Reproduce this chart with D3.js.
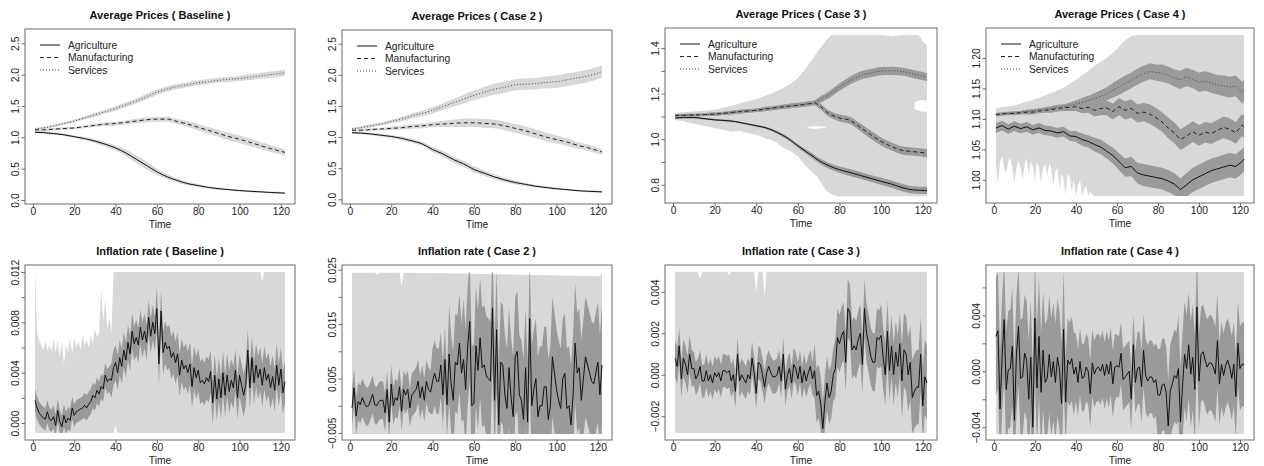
<!DOCTYPE html>
<html><head><meta charset="utf-8">
<script src="https://cdn.jsdelivr.net/npm/d3@7"></script>
<style>body{margin:0;background:#fff}svg{display:block}</style>
</head><body><svg id="c" width="1264" height="466"></svg>
<script>
// ---------------- DATA ----------------
const titles = ["Average Prices ( Baseline )","Average Prices ( Case 2 )","Average Prices ( Case 3 )","Average Prices ( Case 4 )",
  "Inflation rate ( Baseline )","Inflation rate ( Case 2 )","Inflation rate ( Case 3 )","Inflation rate ( Case 4 )"];
const xAxisLabel = "Time";
const legendLabels = ["Agriculture","Manufacturing","Services"];
const xTicks = [0,20,40,60,80,100,120];
const xTickLabels = ["0","20","40","60","80","100","120"];

const yTicksP1 = [0,0.5,1,1.5,2,2.5], yLabelsP1 = ["0.0","0.5","1.0","1.5","2.0","2.5"];
const yTicksP3 = [0.8,0.9,1.0,1.1,1.2,1.3,1.4], yLabelsP3 = ["0.8","","1.0","","1.2","","1.4"];
const yTicksP4 = [1.00,1.05,1.10,1.15,1.20], yLabelsP4 = ["1.00","1.05","1.10","1.15","1.20"];
const yTicksI1 = [0,0.002,0.004,0.006,0.008,0.010,0.012], yLabelsI1 = ["0.000","","0.004","","0.008","","0.012"];
const yTicksI2 = [-0.005,0,0.005,0.010,0.015,0.020,0.025], yLabelsI2 = ["\u22120.005","","0.005","","0.015","","0.025"];
const yTicksI3 = [-0.002,0,0.002,0.004], yLabelsI3 = ["\u22120.002","0.000","0.002","0.004"];
const yTicksI4 = [-0.004,-0.002,0,0.002,0.004,0.006], yLabelsI4 = ["\u22120.004","","0.000","","0.004",""];

// Average prices, Baseline
const baseT   = [1,5,10,15,20,25,30,35,40,45,50,55,60,65,70,75,80,85,90,95,100,105,110,115,122];
const baseAgr = [1.08,1.075,1.06,1.04,1.01,0.98,0.94,0.89,0.83,0.75,0.65,0.55,0.45,0.37,0.31,0.26,0.23,0.20,0.18,0.165,0.15,0.14,0.13,0.12,0.11];
const baseAgrHw = [0.02,0.02,0.02,0.02,0.02,0.025,0.03,0.035,0.04,0.05,0.06,0.06,0.05,0.04,0.03,0.03,0.025,0.02,0.02,0.015,0.015,0.015,0.015,0.015,0.015];
const baseMan = [1.12,1.12,1.13,1.14,1.15,1.17,1.19,1.21,1.22,1.24,1.26,1.28,1.29,1.29,1.25,1.21,1.16,1.11,1.06,1.01,0.97,0.92,0.87,0.82,0.76];
const baseManHw = [0.02,0.02,0.02,0.02,0.02,0.02,0.025,0.025,0.03,0.03,0.035,0.04,0.04,0.04,0.04,0.045,0.05,0.055,0.055,0.06,0.06,0.06,0.055,0.055,0.05];
const baseSer = [1.13,1.15,1.18,1.22,1.26,1.31,1.36,1.41,1.46,1.52,1.58,1.65,1.72,1.77,1.81,1.84,1.87,1.89,1.91,1.925,1.94,1.96,1.98,2.0,2.03];
const baseSerHw = [0.02,0.02,0.02,0.02,0.025,0.025,0.03,0.03,0.035,0.04,0.04,0.045,0.045,0.045,0.04,0.04,0.04,0.04,0.04,0.04,0.04,0.045,0.045,0.05,0.05];

// Average prices, Case 2
const c2T   = [1,5,10,15,20,25,30,35,40,45,50,55,60,65,70,75,80,85,90,95,100,105,110,115,122];
const c2Agr = [1.07,1.065,1.05,1.03,1.01,0.98,0.94,0.89,0.80,0.73,0.64,0.57,0.48,0.42,0.36,0.31,0.27,0.24,0.21,0.19,0.17,0.155,0.14,0.13,0.12];
const c2AgrHw = [0.02,0.02,0.02,0.02,0.025,0.03,0.03,0.035,0.04,0.045,0.05,0.05,0.05,0.045,0.04,0.035,0.03,0.025,0.02,0.02,0.02,0.015,0.015,0.015,0.015];
const c2Man = [1.11,1.11,1.12,1.13,1.14,1.15,1.17,1.18,1.20,1.21,1.22,1.23,1.23,1.22,1.21,1.18,1.14,1.10,1.05,1.00,0.96,0.92,0.87,0.83,0.76];
const c2ManHw = [0.02,0.02,0.02,0.02,0.025,0.03,0.035,0.04,0.04,0.05,0.06,0.07,0.07,0.07,0.07,0.07,0.07,0.07,0.07,0.07,0.065,0.06,0.055,0.05,0.045];
const c2Ser = [1.13,1.15,1.18,1.21,1.25,1.29,1.34,1.38,1.43,1.49,1.55,1.61,1.67,1.72,1.77,1.80,1.84,1.85,1.86,1.88,1.89,1.92,1.95,1.98,2.05];
const c2SerHw = [0.02,0.02,0.025,0.025,0.03,0.035,0.04,0.045,0.05,0.055,0.06,0.07,0.08,0.085,0.09,0.09,0.09,0.09,0.09,0.095,0.1,0.1,0.1,0.1,0.1];

// Average prices, Case 3
const c3T   = [1,5,10,15,20,25,30,35,40,45,50,55,60,65,68,70,75,80,85,90,95,100,105,110,115,122];
const c3Agr = [1.093,1.095,1.095,1.09,1.085,1.082,1.077,1.068,1.059,1.049,1.03,1.005,0.971,0.939,0.92,0.907,0.883,0.866,0.854,0.841,0.828,0.815,0.803,0.788,0.778,0.775];
const c3AgrHw = [0.004,0.004,0.004,0.004,0.004,0.004,0.004,0.004,0.004,0.005,0.006,0.007,0.008,0.01,0.011,0.012,0.013,0.014,0.015,0.015,0.015,0.016,0.016,0.016,0.016,0.016];
const c3Man = [1.104,1.105,1.106,1.108,1.110,1.114,1.119,1.123,1.127,1.133,1.139,1.144,1.149,1.155,1.159,1.149,1.112,1.093,1.083,1.052,1.02,0.99,0.968,0.951,0.946,0.939];
const c3ManHw = [0.006,0.006,0.006,0.006,0.007,0.007,0.008,0.008,0.008,0.009,0.009,0.01,0.01,0.01,0.01,0.012,0.014,0.015,0.016,0.017,0.018,0.018,0.018,0.018,0.018,0.018];
const c3Ser = [1.104,1.105,1.106,1.108,1.110,1.114,1.119,1.123,1.127,1.133,1.139,1.145,1.150,1.156,1.160,1.170,1.195,1.229,1.257,1.279,1.29,1.299,1.30,1.297,1.287,1.273];
const c3SerHw = [0.006,0.006,0.006,0.006,0.007,0.007,0.008,0.008,0.008,0.009,0.009,0.01,0.01,0.01,0.011,0.013,0.015,0.016,0.017,0.018,0.018,0.018,0.018,0.018,0.018,0.018];
const c3OuterUpT = [1,20,28,40,50,57,60,64,69,74,76,100,105,110,118,120,122];
const c3OuterUpV = [1.115,1.129,1.147,1.176,1.21,1.246,1.268,1.312,1.378,1.437,1.458,1.458,1.452,1.458,1.458,1.43,1.41];
const c3OuterLoT = [1,20,24,28,32,36,40,44,46,50,52,57,60,64,69,74,76,79,122];
const c3OuterLoV = [1.085,1.049,1.042,1.034,1.036,1.027,1.02,1.005,1.0,0.985,0.968,0.945,0.924,0.88,0.837,0.771,0.76,0.749,0.749];
// uncovered gaps inside the outer band
const c3Gap1T = [65,69,73], c3Gap1Lo = [1.048,1.046,1.050], c3Gap1Hi = [1.055,1.058,1.054];
const c3Gap2T = [116,119,122], c3Gap2Lo = [1.132,1.122,1.120], c3Gap2Hi = [1.162,1.172,1.170];

// Average prices, Case 4
const c4T = [1,4,7,10,13,16,19,22,25,28,31,34,37,40,43,46,49,52,55,58,61,64,67,70,73,76,79,82,85,88,91,94,97,100,103,106,109,112,115,118,121,122];
const c4Agr = [1.085,1.089,1.083,1.088,1.084,1.087,1.082,1.085,1.081,1.080,1.077,1.079,1.072,1.071,1.066,1.063,1.058,1.054,1.047,1.040,1.030,1.020,1.022,1.011,1.008,1.006,1.004,1.002,0.998,0.993,0.984,0.992,1.000,1.005,1.010,1.015,1.018,1.021,1.024,1.022,1.030,1.034];
const c4AgrHw = [0.008,0.008,0.008,0.008,0.008,0.008,0.008,0.008,0.008,0.008,0.008,0.008,0.008,0.009,0.01,0.01,0.011,0.012,0.012,0.013,0.014,0.015,0.016,0.017,0.018,0.018,0.018,0.018,0.018,0.018,0.018,0.019,0.02,0.02,0.02,0.02,0.02,0.02,0.02,0.02,0.02,0.02];
const c4Man = [1.107,1.108,1.109,1.109,1.110,1.111,1.111,1.113,1.114,1.115,1.117,1.118,1.119,1.120,1.117,1.119,1.114,1.117,1.118,1.112,1.120,1.114,1.117,1.109,1.111,1.108,1.102,1.095,1.085,1.077,1.066,1.072,1.079,1.073,1.078,1.076,1.081,1.086,1.083,1.077,1.090,1.087];
const c4ManHw = [0.003,0.003,0.003,0.003,0.003,0.004,0.004,0.004,0.004,0.005,0.005,0.005,0.006,0.007,0.008,0.009,0.01,0.011,0.012,0.013,0.014,0.015,0.015,0.015,0.015,0.016,0.016,0.016,0.017,0.017,0.017,0.017,0.017,0.017,0.017,0.017,0.017,0.018,0.018,0.018,0.018,0.018];
const c4Ser = [1.107,1.108,1.109,1.110,1.111,1.112,1.113,1.114,1.116,1.117,1.119,1.120,1.122,1.124,1.127,1.130,1.133,1.137,1.141,1.147,1.152,1.158,1.163,1.169,1.174,1.178,1.176,1.175,1.172,1.167,1.164,1.169,1.165,1.160,1.162,1.159,1.156,1.154,1.152,1.154,1.143,1.147];
const c4SerHw = [0.002,0.002,0.002,0.002,0.002,0.003,0.003,0.003,0.003,0.004,0.004,0.004,0.005,0.006,0.007,0.008,0.009,0.01,0.011,0.012,0.013,0.013,0.013,0.013,0.013,0.013,0.013,0.014,0.014,0.014,0.015,0.015,0.015,0.016,0.016,0.016,0.016,0.017,0.017,0.017,0.018,0.018];
const c4OuterUpT = [1,10,20,30,35,40,45,50,55,60,63,67,70,122];
const c4OuterUpV = [1.118,1.122,1.132,1.145,1.153,1.164,1.176,1.189,1.200,1.214,1.226,1.236,1.2375,1.2375];
const c4OuterLoT = [1,2,3,4,5,6,7,8,9,10,11,12,13,14,15,16,17,18,19,20,21,22,23,24,25,26,27,28,29,30,31,32,33,34,35,36,37,38,39,40,41,42,43,44,45,46,47,48,49,122];
const c4OuterLoV = [1.027,0.992,1.03,1.038,1.02,1.011,1.03,1.036,1.02,0.997,1.02,1.033,1.02,1.0,1.025,1.035,1.01,1.03,1.022,1.0,1.03,1.02,0.995,1.02,1.025,1.005,1.028,1.02,0.99,1.015,1.02,0.985,1.01,1.0,0.975,1.01,1.005,0.98,1.0,0.9735,0.99,1.0,0.9735,0.985,0.99,0.9735,0.98,0.975,0.9735,0.9735];

// Inflation rates (t = 1..122)
const infTime = d3.range(1, 123);
const infBase = [0.0018,0.0012,0.0008,0.0006,0.0004,0.0003,0.0009,0.0003,0.0002,0.0005,
 -0.0002,0.0010,0.0001,-0.0003,0.0006,0.0000,0.0004,0.0002,0.0012,0.0006,
 0.0009,0.0010,0.0011,0.0012,0.0014,0.0012,0.0015,0.0017,0.0022,0.0020,
 0.0026,0.0023,0.0029,0.0027,0.0038,0.0033,0.0035,0.0034,0.0044,0.0048,
 0.0040,0.0052,0.0045,0.0058,0.0050,0.0064,0.0055,0.0073,0.0063,0.0068,
 0.0062,0.0076,0.0066,0.0073,0.0064,0.0084,0.0069,0.0080,0.0071,0.0091,
 0.0047,0.0089,0.0056,0.0064,0.0059,0.0061,0.0052,0.0056,0.0048,0.0055,
 0.0038,0.0050,0.0043,0.0046,0.0040,0.0047,0.0029,0.0044,0.0036,0.0042,
 0.0032,0.0034,0.0031,0.0036,0.0033,0.0041,0.0016,0.0038,0.0019,0.0035,
 0.0020,0.0040,0.0022,0.0038,0.0025,0.0034,0.0028,0.0042,0.0020,0.0038,
 0.0030,0.0022,0.0030,0.0058,0.0028,0.0052,0.0032,0.0046,0.0036,0.0043,
 0.0030,0.0044,0.0034,0.0039,0.0028,0.0037,0.0026,0.0046,0.0030,0.0043,
 0.0024,0.0033];
const infBaseHwStart = [1,25,38,60], infBaseHw = [0.0009,0.0010,0.0014,0.0017];
const infBaseOuterUpT = [1,2,3,4,5,6,7,8,9,10,11,12,13,14,15,16,17,18,19,20,21,22,23,24,25,26,27,28,29,30,31,32,33,34,35,36,37,38,39,110,111,112,122];
const infBaseOuterUpV = [0.0120,0.0072,0.0065,0.0062,0.0058,0.0065,0.0057,0.0062,0.0057,0.0067,0.0056,0.0066,0.0052,0.0064,0.0047,0.0062,0.0056,0.0067,0.0055,0.0068,0.0060,0.0065,0.0058,0.0070,0.0062,0.0066,0.0060,0.0070,0.0063,0.0075,0.0068,0.0072,0.0106,0.0080,0.0098,0.0075,0.0084,0.0072,0.0120,0.0120,0.0113,0.0120,0.0120];
const infBaseOuterLoT = [1,39,40,41,122];
const infBaseOuterLoV = [-0.0008,-0.0008,-0.0002,-0.0008,-0.0008];

const infCase2 = [-0.0004,0.0033,-0.0019,0.0008,0.0002,0.0015,0.0005,-0.0002,0.0000,0.0010,
 0.0021,0.0002,0.0000,0.0008,0.0010,0.0010,-0.0013,0.0030,-0.0030,0.0040,
 0.0000,0.0015,0.0010,0.0035,-0.0010,0.0030,0.0020,0.0030,-0.0004,0.0020,
 0.0025,0.0030,0.0045,0.0015,0.0035,0.0010,0.0045,0.0030,0.0025,0.0045,
 0.0060,0.0045,0.0045,0.0075,0.0020,0.0085,0.0002,0.0095,0.0040,0.0010,
 0.0080,0.0075,0.0115,0.0060,0.0085,0.0030,0.0110,0.0155,0.0000,0.0005,
 0.0110,0.0065,0.0125,0.0070,0.0075,0.0055,0.0050,0.0045,0.0180,0.0010,
 0.0140,-0.0035,0.0080,0.0075,0.0020,-0.0005,0.0070,0.0015,-0.0020,0.0090,
 0.0100,0.0020,0.0010,-0.0025,0.0070,-0.0030,0.0160,0.0000,0.0030,0.0050,
 -0.0020,0.0000,0.0000,0.0035,0.0035,-0.0025,0.0000,0.0090,0.0060,0.0030,
 0.0010,-0.0005,0.0050,0.0060,-0.0005,0.0000,-0.0035,0.0020,0.0115,0.0060,
 0.0070,0.0010,0.0050,0.0090,0.0075,0.0060,0.0045,0.0040,0.0060,0.0080,
 0.0020,0.0075];
const infCase2HwStart = [1,30,40,48,55], infCase2Hw = [0.0035,0.004,0.006,0.009,0.011];
const infCase2OuterUpT = [1,12,13,14,24,25,26,121,122];
const infCase2OuterUpV = [0.0245,0.0245,0.0240,0.0245,0.0245,0.0222,0.0245,0.0238,0.0245];
const infCase2OuterLoT = [1,122];
const infCase2OuterLoV = [-0.0052,-0.0052];

const infCase3 = [0.0008,0.0004,0.0014,-0.0002,0.0008,0.0005,0.0000,0.0010,0.0003,0.0003,
 -0.0002,0.0000,0.0004,-0.0003,-0.0003,0.0002,-0.0003,0.0000,-0.0004,0.0001,
 -0.0001,0.0001,-0.0003,0.0002,0.0002,0.0001,0.0002,-0.0003,0.0000,-0.0008,
 0.0010,-0.0003,0.0000,-0.0002,-0.0004,0.0000,-0.0002,0.0008,0.0001,-0.0009,
 0.0006,0.0005,0.0000,-0.0006,0.0001,0.0004,0.0001,-0.0001,-0.0001,0.0000,
 0.0004,-0.0003,0.0010,-0.0007,0.0000,0.0003,-0.0004,0.0005,0.0003,-0.0002,
 0.0004,-0.0004,0.0002,-0.0003,0.0001,0.0004,-0.0002,0.0002,-0.0010,-0.0008,
 -0.0014,-0.0026,-0.0013,-0.0004,-0.0011,-0.0008,0.0000,0.0003,0.0018,0.0015,
 0.0019,0.0021,0.0006,0.0032,0.0030,0.0012,0.0014,0.0012,0.0017,0.0020,
 0.0005,0.0032,0.0020,0.0015,0.0009,0.0006,0.0006,0.0018,0.0017,0.0019,
 0.0008,0.0000,0.0021,0.0002,0.0014,0.0000,0.0011,0.0004,0.0015,-0.0003,
 0.0012,0.0010,0.0000,0.0006,-0.0011,-0.0008,-0.0006,-0.0006,0.0010,-0.0015,
 -0.0001,-0.0004];
const infCase3HwStart = [1,10,68,78,100,110], infCase3Hw = [0.0009,0.0008,0.0013,0.0014,0.0015,0.0018];
const infCase3OuterUpT = [1,12,13,14,26,27,28,39,40,41,43,44,45,122];
const infCase3OuterUpV = [0.00497,0.00497,0.0046,0.00497,0.00497,0.0048,0.00497,0.00497,0.0040,0.00497,0.00497,0.0038,0.00497,0.00497];
const infCase3OuterLoT = [1,122];
const infCase3OuterLoV = [-0.00281,-0.00281];

const infCase4 = [0.0025,0.0029,-0.0027,0.0010,0.0037,-0.0013,0.0001,0.0002,0.0018,-0.0035,
 0.0012,0.0032,-0.0005,-0.0004,0.0013,0.0008,-0.0020,0.0010,-0.0040,0.0038,
 -0.0012,0.0025,-0.0015,0.0015,-0.0008,-0.0005,0.0012,-0.0004,0.0007,-0.0008,
 0.0010,0.0001,-0.0023,0.0030,-0.0022,0.0008,0.0005,0.0009,-0.0002,0.0003,
 -0.0008,0.0007,-0.0005,-0.0004,0.0003,0.0000,-0.0016,0.0006,-0.0002,0.0002,
 0.0003,0.0000,0.0005,-0.0003,0.0005,-0.0002,0.0007,-0.0009,0.0003,0.0004,
 0.0003,0.0013,-0.0006,-0.0004,-0.0002,0.0000,-0.0020,0.0019,-0.0008,0.0002,
 0.0003,-0.0011,0.0015,-0.0003,-0.0007,-0.0004,-0.0004,-0.0008,-0.0006,-0.0017,
 -0.0017,-0.0010,-0.0009,-0.0015,-0.0039,-0.0014,-0.0009,-0.0003,-0.0005,0.0002,
 -0.0036,-0.0010,0.0012,0.0002,0.0019,-0.0002,0.0010,-0.0013,0.0046,-0.0007,
 0.0012,0.0014,0.0008,0.0003,0.0006,0.0006,0.0003,-0.0002,0.0022,-0.0009,
 0.0005,-0.0003,0.0004,0.0008,0.0003,-0.0005,0.0005,-0.0018,0.0020,0.0002,
 0.0005,0.0005];
const infCase4HwStart = [1,35,40,60,70,80,90,100,110], infCase4Hw = [0.0042,0.0030,0.0024,0.0022,0.0026,0.0033,0.0038,0.0034,0.0030];
const infCase4OuterUpT = [1,122], infCase4OuterUpV = [0.0071,0.0071];
const infCase4OuterLoT = [1,122], infCase4OuterLoV = [-0.0045,-0.0045];

// ---------------- STYLE / LAYOUT ----------------
const FONT = '"Liberation Sans", Arial, Helvetica, sans-serif';
const LIGHT = "#d8d8d8", DARK = "#9a9a9a", AXIS = "#6a6a6a", TXT = "#222";
const X_DOMAIN = [-3.84, 126.84];
const smooth = d3.curveMonotoneX, linear = d3.curveLinear;
const SOLID = null, DASHED = "4,3", DOTTED = "1,2";
const svg = d3.select("#c").attr("font-family", FONT);
let clipN = 0;

function stepHw(starts, vals, t){ let v = vals[0]; starts.forEach((s,i)=>{ if (t >= s) v = vals[i]; }); return v; }

function seriesLayers(t, v, hw, fill, curve){ return {kind:"band", t, v, hw, fill, curve}; }
function lineLayer(t, v, dash, color, curve){ return {kind:"line", t, v, dash, color, curve}; }

function drawPanel(cfg){
  const [bx0, by0, bx1, by1] = cfg.box;
  const x = d3.scaleLinear().domain(X_DOMAIN).range([bx0, bx1]);
  const y = d3.scaleLinear().domain(cfg.yDomain).range([by1, by0]);
  const g = svg.append("g");
  const id = "clip" + (clipN++);
  const lo = cfg.clip ? cfg.clip[0] : cfg.yDomain[0];
  const hi = cfg.clip ? cfg.clip[1] : cfg.yDomain[1];
  g.append("clipPath").attr("id", id).append("rect")
    .attr("x", bx0).attr("width", bx1 - bx0).attr("y", y(hi)).attr("height", y(lo) - y(hi));
  const plot = g.append("g").attr("clip-path", `url(#${id})`);

  cfg.layers.forEach(L => {
    if (L.kind === "poly") {
      const pts = L.upT.map((t,i)=>[x(t), y(L.upV[i])])
        .concat(L.loT.map((t,i)=>[x(t), y(L.loV[i])]).reverse());
      plot.append("path").attr("d", d3.line().curve(L.curve || linear)(pts) + "Z").attr("fill", L.fill);
    } else if (L.kind === "band") {
      const hw = i => Array.isArray(L.hw) ? L.hw[i] : stepHw(L.hw.start, L.hw.val, L.t[i]);
      const area = d3.area().curve(L.curve)
        .x((d,i)=>x(L.t[i])).y0((d,i)=>y(L.v[i]-hw(i))).y1((d,i)=>y(L.v[i]+hw(i)));
      plot.append("path").attr("d", area(L.v)).attr("fill", L.fill);
    }
  });
  cfg.layers.filter(L => L.kind === "line").forEach(L => {
    const line = d3.line().curve(L.curve).x((d,i)=>x(L.t[i])).y(d=>y(d));
    plot.append("path").attr("d", line(L.v)).attr("fill","none")
      .attr("stroke", L.color).attr("stroke-width", 1)
      .attr("stroke-dasharray", L.dash);
  });

  // box
  g.append("rect").attr("x", bx0).attr("y", by0).attr("width", bx1-bx0).attr("height", by1-by0)
    .attr("fill","none").attr("stroke", AXIS).attr("stroke-width", 1);

  // x axis
  const ax = g.append("g").attr("transform", `translate(0,${by1})`)
    .call(d3.axisBottom(x).tickValues(xTicks).tickFormat((d,i)=>xTickLabels[i]).tickSizeOuter(0).tickSize(3.5));
  ax.select(".domain").remove();
  ax.selectAll("line").attr("stroke", AXIS);
  ax.selectAll("text").attr("y", 3.2).attr("dy","0.71em").attr("font-size", 10.3)
    .attr("fill", TXT).attr("font-family", FONT);

  // y axis
  const ay = g.append("g").attr("transform", `translate(${bx0},0)`)
    .call(d3.axisLeft(y).tickValues(cfg.yTicks).tickFormat((d,i)=>cfg.yLabels[i]).tickSizeOuter(0).tickSize(3.5));
  ay.select(".domain").remove();
  ay.selectAll("line").attr("stroke", AXIS);
  ay.selectAll("text").attr("x", 0).attr("y", -6.5).attr("dy", 0).attr("text-anchor","middle")
    .attr("transform","rotate(-90)").attr("font-size", 10.3).attr("fill", TXT).attr("font-family", FONT);

  // titles
  g.append("text").attr("x", (bx0+bx1)/2).attr("y", by0 - 10).attr("text-anchor","middle")
    .attr("font-weight","bold").attr("font-size", 11).attr("fill","#111").text(cfg.title);
  g.append("text").attr("x", (bx0+bx1)/2).attr("y", by1 + 24).attr("text-anchor","middle")
    .attr("font-size", 10.3).attr("fill", TXT).text(xAxisLabel);

  // legend
  if (cfg.legend) {
    const dashes = [SOLID, DASHED, DOTTED], cols = ["#111","#222","#444"];
    legendLabels.forEach((lab, i) => {
      const ly = by0 + 16 + i * 12.5;
      g.append("line").attr("x1", bx0+15).attr("x2", bx0+35).attr("y1", ly).attr("y2", ly)
        .attr("stroke", cols[i]).attr("stroke-width", 1).attr("stroke-dasharray", dashes[i]);
      g.append("text").attr("x", bx0+43).attr("y", ly + 3.7).attr("font-size", 10.3)
        .attr("fill", TXT).text(lab);
    });
  }
}

const priceLines = (t, a, m, s, curve) => [
  lineLayer(t, a, SOLID, "#111", curve),
  lineLayer(t, m, DASHED, "#222", curve),
  lineLayer(t, s, DOTTED, "#444", curve)];

const panels = [
  {title: titles[0], box:[25,29,295,204], yDomain:[-0.064,2.728], yTicks:yTicksP1, yLabels:yLabelsP1, legend:true,
   layers:[seriesLayers(baseT,baseAgr,baseAgrHw,LIGHT,smooth), seriesLayers(baseT,baseMan,baseManHw,LIGHT,smooth),
           seriesLayers(baseT,baseSer,baseSerHw,LIGHT,smooth), ...priceLines(baseT,baseAgr,baseMan,baseSer,smooth)]},
  {title: titles[1], box:[342,30,612,204], yDomain:[-0.075,2.72], yTicks:yTicksP1, yLabels:yLabelsP1, legend:true,
   layers:[seriesLayers(c2T,c2Agr,c2AgrHw,LIGHT,smooth), seriesLayers(c2T,c2Man,c2ManHw,LIGHT,smooth),
           seriesLayers(c2T,c2Ser,c2SerHw,LIGHT,smooth), ...priceLines(c2T,c2Agr,c2Man,c2Ser,smooth)]},
  {title: titles[2], box:[665,28,937,203], yDomain:[0.72,1.488], yTicks:yTicksP3, yLabels:yLabelsP3, legend:true,
   clip:[d3.min(c3OuterLoV), d3.max(c3OuterUpV)],
   layers:[{kind:"poly", upT:c3OuterUpT, upV:c3OuterUpV, loT:c3OuterLoT, loV:c3OuterLoV, fill:LIGHT},
           {kind:"poly", upT:c3Gap1T, upV:c3Gap1Hi, loT:c3Gap1T, loV:c3Gap1Lo, fill:"#fff", curve:d3.curveCardinalClosed},
           {kind:"poly", upT:c3Gap2T, upV:c3Gap2Hi, loT:c3Gap2T, loV:c3Gap2Lo, fill:"#fff"},
           seriesLayers(c3T,c3Agr,c3AgrHw,DARK,smooth), seriesLayers(c3T,c3Man,c3ManHw,DARK,smooth),
           seriesLayers(c3T,c3Ser,c3SerHw,DARK,smooth), ...priceLines(c3T,c3Agr,c3Man,c3Ser,smooth)]},
  {title: titles[3], box:[986,28,1254,203], yDomain:[0.962,1.249], yTicks:yTicksP4, yLabels:yLabelsP4, legend:true,
   clip:[d3.min(c4OuterLoV), d3.max(c4OuterUpV)],
   layers:[{kind:"poly", upT:c4OuterUpT, upV:c4OuterUpV, loT:c4OuterLoT, loV:c4OuterLoV, fill:LIGHT},
           seriesLayers(c4T,c4Agr,c4AgrHw,DARK,linear), seriesLayers(c4T,c4Man,c4ManHw,DARK,linear),
           seriesLayers(c4T,c4Ser,c4SerHw,DARK,linear), ...priceLines(c4T,c4Agr,c4Man,c4Ser,linear)]},
  {title: titles[4], box:[25,265,295,440], yDomain:[-0.00135,0.01256], yTicks:yTicksI1, yLabels:yLabelsI1,
   clip:[d3.min(infBaseOuterLoV), d3.max(infBaseOuterUpV)],
   layers:[{kind:"poly", upT:infBaseOuterUpT, upV:infBaseOuterUpV, loT:infBaseOuterLoT, loV:infBaseOuterLoV, fill:LIGHT},
           seriesLayers(infTime,infBase,{start:infBaseHwStart,val:infBaseHw},DARK,linear),
           lineLayer(infTime,infBase,SOLID,"#111",linear)]},
  {title: titles[5], box:[342,265,612,440], yDomain:[-0.00629,0.02586], yTicks:yTicksI2, yLabels:yLabelsI2,
   clip:[d3.min(infCase2OuterLoV), d3.max(infCase2OuterUpV)],
   layers:[{kind:"poly", upT:infCase2OuterUpT, upV:infCase2OuterUpV, loT:infCase2OuterLoT, loV:infCase2OuterLoV, fill:LIGHT},
           seriesLayers(infTime,infCase2,{start:infCase2HwStart,val:infCase2Hw},DARK,linear),
           lineLayer(infTime,infCase2,SOLID,"#111",linear)]},
  {title: titles[6], box:[665,265,937,440], yDomain:[-0.00315,0.0053], yTicks:yTicksI3, yLabels:yLabelsI3,
   clip:[d3.min(infCase3OuterLoV), d3.max(infCase3OuterUpV)],
   layers:[{kind:"poly", upT:infCase3OuterUpT, upV:infCase3OuterUpV, loT:infCase3OuterLoT, loV:infCase3OuterLoV, fill:LIGHT},
           seriesLayers(infTime,infCase3,{start:infCase3HwStart,val:infCase3Hw},DARK,linear),
           lineLayer(infTime,infCase3,SOLID,"#111",linear)]},
  {title: titles[7], box:[986,265,1254,440], yDomain:[-0.00491,0.0076], yTicks:yTicksI4, yLabels:yLabelsI4,
   clip:[d3.min(infCase4OuterLoV), d3.max(infCase4OuterUpV)],
   layers:[{kind:"poly", upT:infCase4OuterUpT, upV:infCase4OuterUpV, loT:infCase4OuterLoT, loV:infCase4OuterLoV, fill:LIGHT},
           seriesLayers(infTime,infCase4,{start:infCase4HwStart,val:infCase4Hw},DARK,linear),
           lineLayer(infTime,infCase4,SOLID,"#111",linear)]}
];
panels.forEach(drawPanel);
</script></body></html>
